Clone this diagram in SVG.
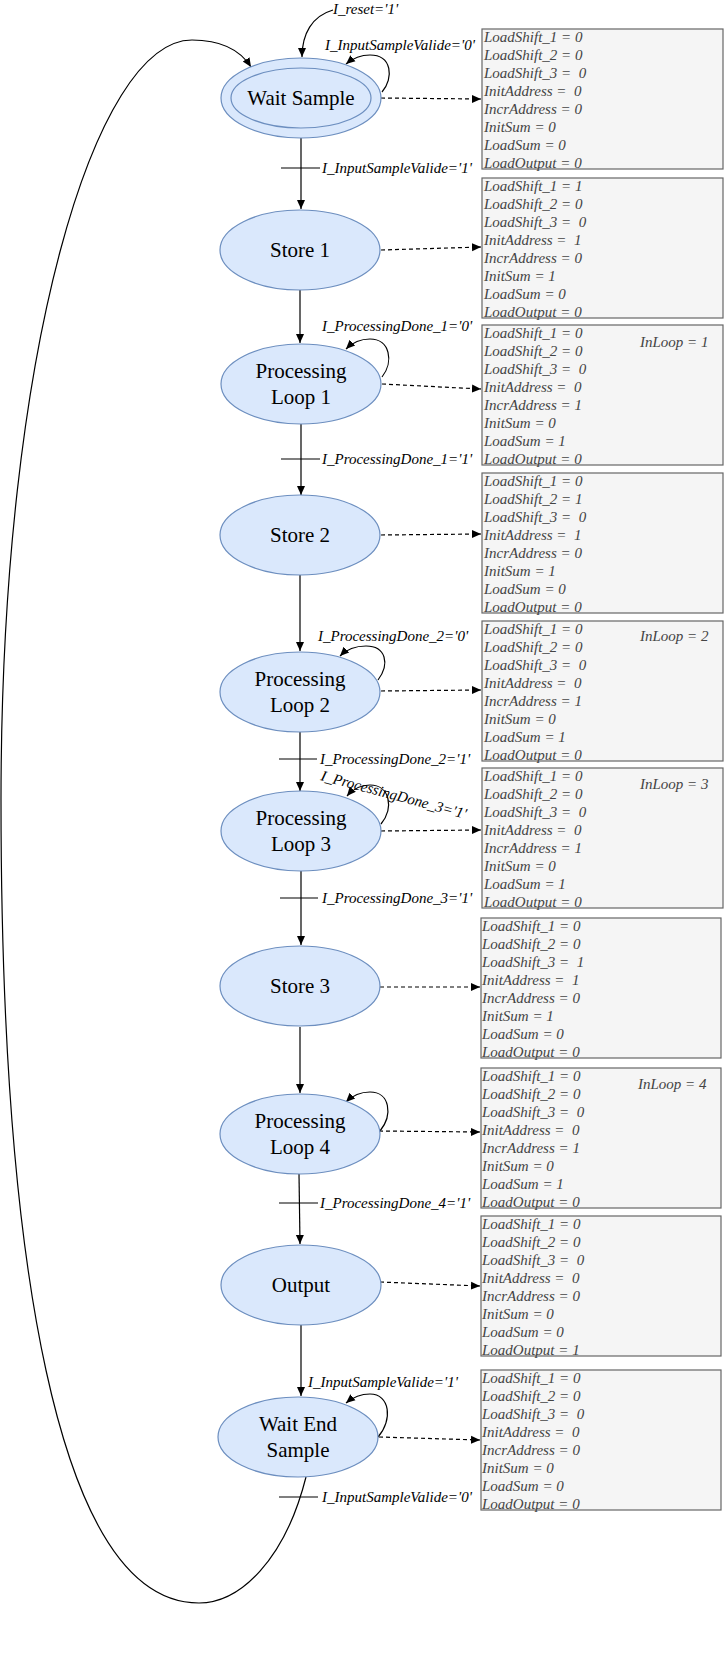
<svg xmlns="http://www.w3.org/2000/svg" width="724" height="1661" viewBox="0 0 724 1661">
<style>
.st{fill:#dae8fc;stroke:#6c8ebf;stroke-width:1.2}
.nl{font-family:"Liberation Serif",serif;font-size:21px;fill:#000;text-anchor:middle}
.bx{fill:#f5f5f5;stroke:#666;stroke-width:1.2}
.bt{font-family:"Liberation Serif",serif;font-style:italic;font-size:15px;fill:#444;white-space:pre}
.lb{font-family:"Liberation Serif",serif;font-style:italic;font-size:15px;fill:#000;white-space:pre}
.e{fill:none;stroke:#000;stroke-width:1.2}
.a{marker-end:url(#ar)}
.d{fill:none;stroke:#000;stroke-width:1.2;stroke-dasharray:4 3;marker-end:url(#ar)}
</style>
<defs>
<marker id="ar" markerUnits="userSpaceOnUse" markerWidth="10" markerHeight="10" refX="9" refY="5" orient="auto">
<path d="M0,1 L9,5 L0,9 Z" fill="#000"/>
</marker>
</defs>
<g id="connectors">
<path class="e a" d="M333,10 C312,16 302,34 302,57"/>
<path class="e a" d="M382,92 C394,78 392,55 370,55 C360,55 352,59 346,64"/>
<path class="e a" d="M301,138 L301,209"/>
<line class="e" x1="281" y1="168" x2="320" y2="168"/>
<path class="e a" d="M300,290 L300,343"/>
<path class="e a" d="M382,377 C394,362 390,339 370,339 C360,339 352,343 346,349"/>
<path class="e a" d="M301,424 L301,495"/>
<line class="e" x1="281" y1="459" x2="320" y2="459"/>
<path class="e a" d="M300,575 L300,651"/>
<path class="e a" d="M378,680 C390,664 386,646 366,646 C354,646 346,650 340,656"/>
<path class="e a" d="M300,732 L300,791"/>
<line class="e" x1="279" y1="759" x2="317" y2="759"/>
<path class="e a" d="M381,824 C394,808 390,785 370,785 C360,785 352,790 347,796"/>
<path class="e a" d="M301,871 L301,945"/>
<line class="e" x1="280" y1="898" x2="318" y2="898"/>
<path class="e a" d="M300,1027 L300,1093"/>
<path class="e a" d="M380,1131 C393,1115 390,1092 370,1092 C360,1092 352,1096 346,1102"/>
<path class="e a" d="M299,1174 L300,1244"/>
<line class="e" x1="279" y1="1203" x2="318" y2="1203"/>
<path class="e a" d="M301,1325 L301,1396"/>
<path class="e a" d="M378,1437 C393,1420 390,1394 370,1394 C360,1394 352,1398 346,1403"/>
<path class="e a" d="M306,1477 C285,1560 240,1603 199,1603 C55,1603 1,1250 1,800 C1,350 95,40 192,40 C225,40 242,53 251,67"/>
<line class="e" x1="279" y1="1497" x2="318" y2="1497"/>
<path class="d" d="M381,98 L481,99"/>
<path class="d" d="M381,250 L481,247"/>
<path class="d" d="M382,384 L481,389"/>
<path class="d" d="M381,535 L481,534"/>
<path class="d" d="M381,691 L481,690"/>
<path class="d" d="M381,831 L481,830"/>
<path class="d" d="M380,987 L480,987"/>
<path class="d" d="M379,1131 L480,1132"/>
<path class="d" d="M380,1282 L480,1286"/>
<path class="d" d="M379,1437 L480,1440"/>
<text class="lb" x="333" y="14">I_reset='1'</text>
<text class="lb" x="325" y="50">I_InputSampleValide='0'</text>
<text class="lb" x="322" y="173">I_InputSampleValide='1'</text>
<text class="lb" x="322" y="331">I_ProcessingDone_1='0'</text>
<text class="lb" x="322" y="464">I_ProcessingDone_1='1'</text>
<text class="lb" x="318" y="641">I_ProcessingDone_2='0'</text>
<text class="lb" x="320" y="764">I_ProcessingDone_2='1'</text>
<text class="lb" x="320" y="780" transform="rotate(15 320 780)">I_ProcessingDone_3='1'</text>
<text class="lb" x="322" y="903">I_ProcessingDone_3='1'</text>
<text class="lb" x="320" y="1208">I_ProcessingDone_4='1'</text>
<text class="lb" x="308" y="1387">I_InputSampleValide='1'</text>
<text class="lb" x="322" y="1502">I_InputSampleValide='0'</text>
</g>
<g id="waitSample"><ellipse class="st" cx="301" cy="98" rx="80" ry="40"/><ellipse class="st" cx="301" cy="98" rx="70" ry="30"/><text class="nl" x="301" y="105">Wait Sample</text></g>
<g id="store1"><ellipse class="st" cx="300" cy="250" rx="80" ry="40"/><text class="nl" x="300" y="257">Store 1</text></g>
<g id="loop1"><ellipse class="st" cx="301" cy="384" rx="80" ry="40"/><text class="nl" x="301" y="378">Processing</text><text class="nl" x="301" y="404">Loop 1</text></g>
<g id="store2"><ellipse class="st" cx="300" cy="535" rx="80" ry="40"/><text class="nl" x="300" y="542">Store 2</text></g>
<g id="loop2"><ellipse class="st" cx="300" cy="692" rx="80" ry="40"/><text class="nl" x="300" y="686">Processing</text><text class="nl" x="300" y="712">Loop 2</text></g>
<g id="loop3"><ellipse class="st" cx="301" cy="831" rx="80" ry="40"/><text class="nl" x="301" y="825">Processing</text><text class="nl" x="301" y="851">Loop 3</text></g>
<g id="store3"><ellipse class="st" cx="300" cy="986" rx="80" ry="40"/><text class="nl" x="300" y="993">Store 3</text></g>
<g id="loop4"><ellipse class="st" cx="300" cy="1134" rx="80" ry="40"/><text class="nl" x="300" y="1128">Processing</text><text class="nl" x="300" y="1154">Loop 4</text></g>
<g id="output"><ellipse class="st" cx="301" cy="1285" rx="80" ry="40"/><text class="nl" x="301" y="1292">Output</text></g>
<g id="waitEnd"><ellipse class="st" cx="298" cy="1437" rx="80" ry="40"/><text class="nl" x="298" y="1431">Wait End</text><text class="nl" x="298" y="1457">Sample</text></g>
<g id="box1"><rect class="bx" x="482" y="29" width="241" height="140"/><text class="bt" x="484" y="42"><tspan x="484">LoadShift_1 = 0</tspan><tspan x="484" dy="18">LoadShift_2 = 0</tspan><tspan x="484" dy="18">LoadShift_3 =  0</tspan><tspan x="484" dy="18">InitAddress =  0</tspan><tspan x="484" dy="18">IncrAddress = 0</tspan><tspan x="484" dy="18">InitSum = 0</tspan><tspan x="484" dy="18">LoadSum = 0</tspan><tspan x="484" dy="18">LoadOutput = 0</tspan></text></g>
<g id="box2"><rect class="bx" x="482" y="178" width="241" height="140"/><text class="bt" x="484" y="191"><tspan x="484">LoadShift_1 = 1</tspan><tspan x="484" dy="18">LoadShift_2 = 0</tspan><tspan x="484" dy="18">LoadShift_3 =  0</tspan><tspan x="484" dy="18">InitAddress =  1</tspan><tspan x="484" dy="18">IncrAddress = 0</tspan><tspan x="484" dy="18">InitSum = 1</tspan><tspan x="484" dy="18">LoadSum = 0</tspan><tspan x="484" dy="18">LoadOutput = 0</tspan></text></g>
<g id="box3"><rect class="bx" x="482" y="325" width="241" height="140"/><text class="bt" x="484" y="338"><tspan x="484">LoadShift_1 = 0</tspan><tspan x="484" dy="18">LoadShift_2 = 0</tspan><tspan x="484" dy="18">LoadShift_3 =  0</tspan><tspan x="484" dy="18">InitAddress =  0</tspan><tspan x="484" dy="18">IncrAddress = 1</tspan><tspan x="484" dy="18">InitSum = 0</tspan><tspan x="484" dy="18">LoadSum = 1</tspan><tspan x="484" dy="18">LoadOutput = 0</tspan></text><text class="bt" x="640" y="347">InLoop = 1</text></g>
<g id="box4"><rect class="bx" x="482" y="473" width="241" height="140"/><text class="bt" x="484" y="486"><tspan x="484">LoadShift_1 = 0</tspan><tspan x="484" dy="18">LoadShift_2 = 1</tspan><tspan x="484" dy="18">LoadShift_3 =  0</tspan><tspan x="484" dy="18">InitAddress =  1</tspan><tspan x="484" dy="18">IncrAddress = 0</tspan><tspan x="484" dy="18">InitSum = 1</tspan><tspan x="484" dy="18">LoadSum = 0</tspan><tspan x="484" dy="18">LoadOutput = 0</tspan></text></g>
<g id="box5"><rect class="bx" x="482" y="621" width="241" height="140"/><text class="bt" x="484" y="634"><tspan x="484">LoadShift_1 = 0</tspan><tspan x="484" dy="18">LoadShift_2 = 0</tspan><tspan x="484" dy="18">LoadShift_3 =  0</tspan><tspan x="484" dy="18">InitAddress =  0</tspan><tspan x="484" dy="18">IncrAddress = 1</tspan><tspan x="484" dy="18">InitSum = 0</tspan><tspan x="484" dy="18">LoadSum = 1</tspan><tspan x="484" dy="18">LoadOutput = 0</tspan></text><text class="bt" x="640" y="641">InLoop = 2</text></g>
<g id="box6"><rect class="bx" x="482" y="768" width="241" height="140"/><text class="bt" x="484" y="781"><tspan x="484">LoadShift_1 = 0</tspan><tspan x="484" dy="18">LoadShift_2 = 0</tspan><tspan x="484" dy="18">LoadShift_3 =  0</tspan><tspan x="484" dy="18">InitAddress =  0</tspan><tspan x="484" dy="18">IncrAddress = 1</tspan><tspan x="484" dy="18">InitSum = 0</tspan><tspan x="484" dy="18">LoadSum = 1</tspan><tspan x="484" dy="18">LoadOutput = 0</tspan></text><text class="bt" x="640" y="789">InLoop = 3</text></g>
<g id="box7"><rect class="bx" x="481" y="918" width="240" height="140"/><text class="bt" x="482" y="931"><tspan x="482">LoadShift_1 = 0</tspan><tspan x="482" dy="18">LoadShift_2 = 0</tspan><tspan x="482" dy="18">LoadShift_3 =  1</tspan><tspan x="482" dy="18">InitAddress =  1</tspan><tspan x="482" dy="18">IncrAddress = 0</tspan><tspan x="482" dy="18">InitSum = 1</tspan><tspan x="482" dy="18">LoadSum = 0</tspan><tspan x="482" dy="18">LoadOutput = 0</tspan></text></g>
<g id="box8"><rect class="bx" x="481" y="1068" width="240" height="140"/><text class="bt" x="482" y="1081"><tspan x="482">LoadShift_1 = 0</tspan><tspan x="482" dy="18">LoadShift_2 = 0</tspan><tspan x="482" dy="18">LoadShift_3 =  0</tspan><tspan x="482" dy="18">InitAddress =  0</tspan><tspan x="482" dy="18">IncrAddress = 1</tspan><tspan x="482" dy="18">InitSum = 0</tspan><tspan x="482" dy="18">LoadSum = 1</tspan><tspan x="482" dy="18">LoadOutput = 0</tspan></text><text class="bt" x="638" y="1089">InLoop = 4</text></g>
<g id="box9"><rect class="bx" x="481" y="1216" width="240" height="140"/><text class="bt" x="482" y="1229"><tspan x="482">LoadShift_1 = 0</tspan><tspan x="482" dy="18">LoadShift_2 = 0</tspan><tspan x="482" dy="18">LoadShift_3 =  0</tspan><tspan x="482" dy="18">InitAddress =  0</tspan><tspan x="482" dy="18">IncrAddress = 0</tspan><tspan x="482" dy="18">InitSum = 0</tspan><tspan x="482" dy="18">LoadSum = 0</tspan><tspan x="482" dy="18">LoadOutput = 1</tspan></text></g>
<g id="box10"><rect class="bx" x="481" y="1370" width="240" height="140"/><text class="bt" x="482" y="1383"><tspan x="482">LoadShift_1 = 0</tspan><tspan x="482" dy="18">LoadShift_2 = 0</tspan><tspan x="482" dy="18">LoadShift_3 =  0</tspan><tspan x="482" dy="18">InitAddress =  0</tspan><tspan x="482" dy="18">IncrAddress = 0</tspan><tspan x="482" dy="18">InitSum = 0</tspan><tspan x="482" dy="18">LoadSum = 0</tspan><tspan x="482" dy="18">LoadOutput = 0</tspan></text></g>
</svg>
